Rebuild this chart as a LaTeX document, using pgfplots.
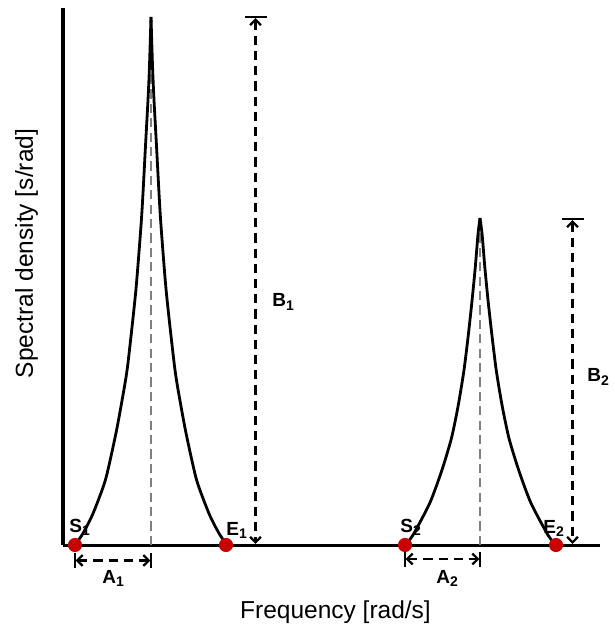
\documentclass[border=0pt]{standalone}
\usepackage{pgfplots}
\pgfplotsset{compat=1.18}
\usepackage{pgfplotstable}
\usetikzlibrary{arrows.meta}
\usepackage{fontspec}
\setmainfont{Liberation Sans}
\definecolor{dotred}{RGB}{200,0,0}
\definecolor{guidegray}{RGB}{128,128,128}
\newcommand{\lab}[2]{\textbf{#1\raisebox{-0.35ex}{\fontsize{7}{7}\selectfont #2}}}

\pgfplotstableread{
x y
12 0
19.6 11.0
29.6 30.5
42.4 65.0
53.2 113.0
61.4 158.0
65.1 183.0
72.8 254.0
78.6 328.0
82.6 401.0
85.0 445.0
86.3 474.0
87.2 501.6
88 528
}\peakAleft
\pgfplotstableread{
x y
88 528
88.8 501.6
89.7 474.0
91.0 445.0
93.4 401.0
97.4 328.0
103.2 254.0
111.0 183.0
114.6 158.0
122.8 113.0
133.6 65.0
146.4 30.5
156.4 11.0
164 0
}\peakAright
\pgfplotstableread{
x y
342 0
350.0 10.0
366.8 42.0
378.8 74.5
388.5 107.0
395.3 140.0
401.0 175.0
405.3 210.0
409.0 244.0
412.3 278.0
415.0 310.7
417 327
}\peakBleft
\pgfplotstableread{
x y
417 327
419.1 310.7
421.8 278.0
425.1 244.0
428.9 210.0
433.2 175.0
439.0 140.0
445.9 107.0
455.8 74.5
467.9 42.0
484.9 10.0
493 0
}\peakBright

\tikzset{
  tip/.tip={Straight Barb[length=2.8pt,width=5.4pt,line width=1.1pt]},
  dimarrow/.style={black, line width=1.3pt, dash pattern=on 4.6pt off 3pt, tip-tip},
  endbar/.style={black, line width=1pt},
}

\begin{document}
\begin{tikzpicture}
\begin{axis}[
  scale only axis, width=268.5pt, height=268.5pt,
  xmin=0, xmax=537, ymin=0, ymax=537,
  axis x line=bottom, axis y line=left,
  axis line style={-, line width=1.5pt},
  ticks=none, clip=false,
]
% guide lines
\addplot[guidegray, line width=1.35pt, dash pattern=on 4.6pt off 2.6pt] coordinates {(88,0) (88,515)};
\addplot[guidegray, line width=1.35pt, dash pattern=on 4.6pt off 2.6pt] coordinates {(417,0) (417,315)};
% peaks
\addplot[black, line width=1.4pt, smooth, tension=0.4] table {\peakAleft};
\addplot[black, line width=1.4pt, smooth, tension=0.4] table {\peakAright};
\addplot[black, line width=1.4pt, smooth, tension=0.4] table {\peakBleft};
\addplot[black, line width=1.4pt, smooth, tension=0.4] table {\peakBright};
% start / end points
\addplot[only marks, mark=*, mark size=3.3pt, dotred, mark options={draw=dotred, fill=dotred}]
  coordinates {(12,0) (163,0) (342,0) (493,0)};
% B arrows
\addplot[dimarrow] coordinates {(192.5,527) (192.5,1)};
\addplot[endbar] coordinates {(182,528) (204,528)};
\addplot[dimarrow] coordinates {(509.5,325) (509.5,1)};
\addplot[endbar] coordinates {(499,326) (521,326)};
% A arrows
\addplot[dimarrow] coordinates {(12.5,-15.5) (87.5,-15.5)};
\addplot[endbar] coordinates {(12,-8) (12,-23)};
\addplot[endbar] coordinates {(88,-8) (88,-23)};
\addplot[dimarrow] coordinates {(342.5,-14) (416.5,-14)};
\addplot[endbar] coordinates {(342,-7) (342,-22)};
\addplot[endbar] coordinates {(417,-7) (417,-22)};
% labels
\node[anchor=base west, inner sep=0pt, font=\fontsize{9.5}{10}\selectfont] at (axis cs:6,13) {\lab{S}{1}};
\node[anchor=base west, inner sep=0pt, font=\fontsize{9.5}{10}\selectfont] at (axis cs:163,10) {\lab{E}{1}};
\node[anchor=base west, inner sep=0pt, font=\fontsize{9.5}{10}\selectfont] at (axis cs:337,13) {\lab{S}{2}};
\node[anchor=base west, inner sep=0pt, font=\fontsize{9.5}{10}\selectfont] at (axis cs:480,12) {\lab{E}{2}};
\node[anchor=base west, inner sep=0pt, font=\fontsize{9.5}{10}\selectfont] at (axis cs:39,-38) {\lab{A}{1}};
\node[anchor=base west, inner sep=0pt, font=\fontsize{9.5}{10}\selectfont] at (axis cs:373,-38) {\lab{A}{2}};
\node[anchor=base west, inner sep=0pt, font=\fontsize{9.5}{10}\selectfont] at (axis cs:209,238) {\lab{B}{1}};
\node[anchor=base west, inner sep=0pt, font=\fontsize{9.5}{10}\selectfont] at (axis cs:524,163) {\lab{B}{2}};
% axis titles
\node[anchor=base, inner sep=0pt, font=\fontsize{12.25}{14}\selectfont] at (axis cs:272.5,-73) {Frequency [rad/s]};
\node[anchor=base, rotate=90, inner sep=0pt, font=\fontsize{12.25}{14}\selectfont] at (axis cs:-30,291.5) {Spectral density [s/rad]};
% page extent
\coordinate (ll) at (axis cs:-63,-85);
\coordinate (ur) at (axis cs:551,545);
\end{axis}
\path (ll) rectangle (ur);
\end{tikzpicture}
\end{document}
